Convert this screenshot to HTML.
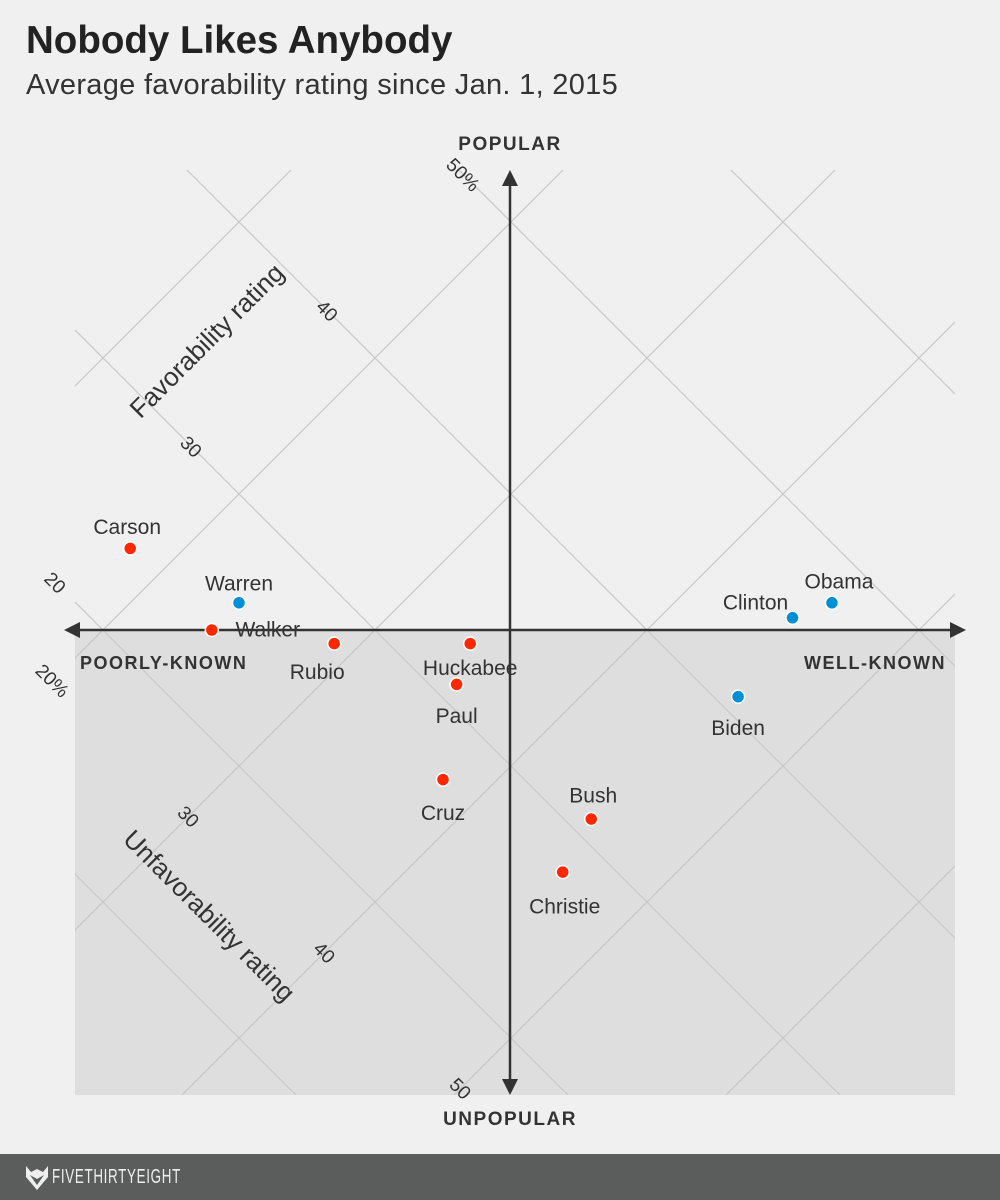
<!DOCTYPE html>
<html><head><meta charset="utf-8"><style>
html,body{margin:0;width:1000px;height:1200px;overflow:hidden}
body{background:#f0f0f0;font-family:"Liberation Sans",sans-serif;position:relative}
#title{position:absolute;left:26px;top:19px;font-size:38.5px;font-weight:bold;color:#222;margin:0;line-height:1.15}
#sub{position:absolute;left:26px;top:69px;font-size:29px;color:#333;letter-spacing:0.3px}
#footer{position:absolute;left:0;top:1154px;width:1000px;height:46px;background:#5a5d5c;overflow:hidden}
#footer span{position:absolute;left:52px;top:12px;color:#eee;font-size:20px;letter-spacing:1px;transform:scaleX(0.67);transform-origin:0 0;white-space:nowrap}
svg{position:absolute;left:0;top:0}
</style></head><body>
<h1 id="title">Nobody Likes Anybody</h1>
<div id="sub">Average favorability rating since Jan. 1, 2015</div>
<svg id="chart" width="1000" height="1154"></svg>
<div id="footer">
<svg width="30" height="30" style="left:22px;top:9px"><path d="M4 3 L9 9 L15 6 L21 9 L26 3 L26 14 L15 27 L4 14 Z M8 12 L15 22 L22 12 L15 16 Z" fill="#eee" fill-rule="evenodd"/></svg>
<span>FIVETHIRTYEIGHT</span></div>
<script>
const names=["Carson","Warren","Walker","Rubio","Huckabee","Paul","Cruz","Bush","Christie","Biden","Clinton","Obama"];
const fav=[24,26,24,28,33,31,27,31,28,40.9,45.8,47.8];
const unfav=[18,24,24,29,34,35,38,44.9,45.8,45.8,44.9,45.8];
const party=["R","D","R","R","R","R","R","R","R","D","D","D"];
const gridVals=[0,10,20,30,40,50,60,70,80,90];
const favTicks=["20","30","40","50%"];
const unfavTicks=["20%","30","40","50"];
const tickVals=[20,30,40,50];

const K=13.6,X0=-441,Y0=630,L=75,R=955,T=170,B=1095,AX=510;
const sx=(f,u)=>X0+K*(f+u), sy=(f,u)=>Y0-K*(f-u);
const svg=document.getElementById('chart');const NS="http://www.w3.org/2000/svg";
function el(t,a,p){const e=document.createElementNS(NS,t);for(const k in a)e.setAttribute(k,a[k]);(p||svg).appendChild(e);return e;}
const defs=el('defs',{});const cp=el('clipPath',{id:'c'},defs);el('rect',{x:L,y:T,width:R-L,height:B-T},cp);
const bg=el('rect',{x:L,y:Y0,width:R-L,height:B-Y0,fill:'#dedede'});


const g=el('g',{'clip-path':'url(#c)'});
gridVals.forEach(v=>{
 const a=el('line',{x1:sx(v,-20),y1:sy(v,-20),x2:sx(v,120),y2:sy(v,120),stroke:'#c8c8c8','stroke-width':1.2},g);
 
 
 const b=el('line',{x1:sx(-20,v),y1:sy(-20,v),x2:sx(120,v),y2:sy(120,v),stroke:'#c8c8c8','stroke-width':1.2},g);
 
 
});
const ha=el('line',{x1:70,y1:Y0,x2:960,y2:Y0,stroke:'#333','stroke-width':2.5});


const va=el('line',{x1:AX,y1:175,x2:AX,y2:1092,stroke:'#333','stroke-width':2.5});


[`${AX-8},186 ${AX},170 ${AX+8},186`,`${AX-8},1079 ${AX},1095 ${AX+8},1079`,`80,622 64,630 80,638`,`950,622 966,630 950,638`].forEach(p=>{
 const a=el('polygon',{points:p,fill:'#333'});
 
 
});
function txt(s,x,y,o){const t=el('text',Object.assign({x:x,y:y,'font-size':20,fill:'#333','font-family':'Liberation Sans, sans-serif'},o||{}));t.textContent=s;return t;}
let t;
t=txt('POPULAR',AX,150,{'text-anchor':'middle','font-weight':'bold','font-size':19,'letter-spacing':1.5});


t=txt('UNPOPULAR',AX,1125,{'text-anchor':'middle','font-weight':'bold','font-size':19,'letter-spacing':1.5});


t=txt('POORLY-KNOWN',80,669,{'font-weight':'bold','font-size':18,'letter-spacing':1.5});


t=txt('WELL-KNOWN',946,669,{'text-anchor':'end','font-weight':'bold','font-size':18,'letter-spacing':1.5});


t=txt('Favorability rating',213,347,{'text-anchor':'middle','font-size':26,transform:'rotate(-45 213 347)'});


t=txt('Unfavorability rating',203,922,{'text-anchor':'middle','font-size':26,transform:'rotate(45 203 922)'});


tickVals.forEach((v,i)=>{
 const x1=sx(v,16.5),y1=sy(v,16.5);
 const a=txt(favTicks[i],x1,y1+7,{'text-anchor':'middle','font-size':19,transform:`rotate(45 ${x1} ${y1})`});
 
 
 const x2=sx(16.3,v),y2=sy(16.3,v);
 const b=txt(unfavTicks[i],x2,y2+7,{'text-anchor':'middle','font-size':19,transform:`rotate(45 ${x2} ${y2})`});
 
 
});
const labelOff={Carson:[-3,-21],Warren:[0,-19],Walker:[56,0],Rubio:[-17,29],Huckabee:[0,25],Paul:[0,32],Cruz:[0,34],Bush:[2,-23],Christie:[2,35],Biden:[0,32],Clinton:[-37,-15],Obama:[7,-21]};
names.forEach((n,i)=>{
 const x=sx(fav[i],unfav[i]),y=sy(fav[i],unfav[i]);
 const c=el('circle',{cx:x,cy:y,r:6.5,fill:party[i]==='R'?'#ff2700':'#008fd5',stroke:'#fff','stroke-width':1.5});
 
 
 const o=labelOff[n];
 const l=txt(n,x+o[0],y+o[1]+1,{'text-anchor':'middle','font-size':21,'dominant-baseline':'middle'});
 
 
});
</script>
</body></html>
